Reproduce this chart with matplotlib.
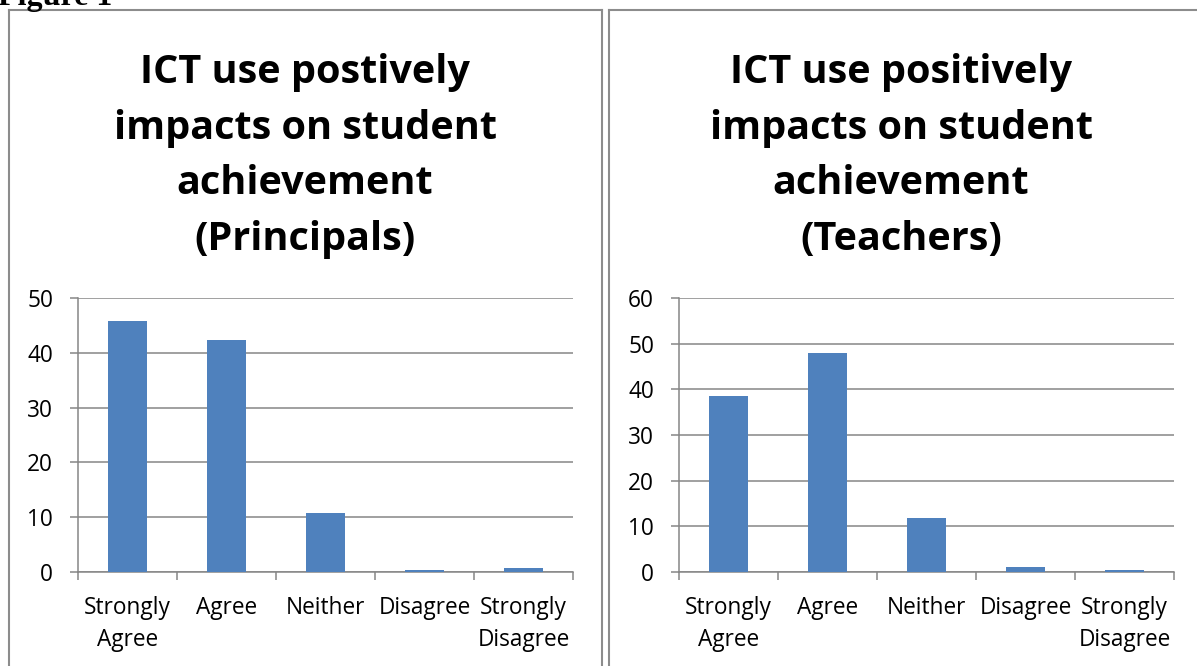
import matplotlib
matplotlib.use("Agg")
import matplotlib.pyplot as plt
import numpy as np
from matplotlib.lines import Line2D

categories = ["Strongly\nAgree", "Agree", "Neither", "Disagree", "Strongly\nDisagree"]
principals = [45.8, 42.3, 10.8, 0.35, 0.7]
teachers = [38.5, 48.0, 11.8, 1.1, 0.4]
title_left = "ICT use postively\nimpacts on student\nachievement\n(Principals)"
title_right = "ICT use positively\nimpacts on student\nachievement\n(Teachers)"
yticks_left = [0, 10, 20, 30, 40, 50]
yticks_right = [0, 10, 20, 30, 40, 50, 60]

W, H = 1197, 666
BAR = "#4F81BD"
GRID = "#868686"
FONT = "Open Sans"
TICKFS = 16.3

fig = plt.figure(figsize=(W / 100, H / 100), dpi=100)


def fx(x):
    return x / W


def fy(y):
    return 1 - y / H


def px_axes(x0, y0, x1, y1):
    return fig.add_axes([fx(x0), fy(y1), (x1 - x0) / W, (y1 - y0) / H])


def draw(ax, values, yticks):
    x = np.arange(len(categories))
    ax.bar(x, values, width=0.4, color=BAR, zorder=3)
    ax.set_xlim(-0.5, len(categories) - 0.5)
    ax.set_ylim(yticks[0], yticks[-1])
    ax.set_yticks(yticks)
    ax.set_yticklabels([str(v) for v in yticks], fontsize=TICKFS, family=FONT)
    ax.set_xticks(np.arange(-0.5, len(categories), 1.0))
    ax.set_xticklabels([])
    ax.set_xticks(x, minor=True)
    ax.set_xticklabels(categories, minor=True, fontsize=TICKFS, family=FONT,
                       linespacing=1.45)
    ax.tick_params(axis="x", which="major", length=6, width=1.1, color=GRID, direction="out")
    ax.tick_params(axis="x", which="minor", length=0, pad=17)
    ax.tick_params(axis="y", length=6, width=1.1, color=GRID, direction="out", pad=12)
    ax.yaxis.grid(True, color=GRID, lw=1.1, zorder=0)
    ax.set_axisbelow(True)
    for s in ("top", "right"):
        ax.spines[s].set_visible(False)
    for s in ("left", "bottom"):
        ax.spines[s].set_color(GRID)
        ax.spines[s].set_linewidth(1.1)


axL = px_axes(78, 298, 573, 572)
draw(axL, principals, yticks_left)
axR = px_axes(679, 298, 1174, 572)
draw(axR, teachers, yticks_right)

fig.text(fx(305), fy(156), title_left, ha="center", va="center", fontsize=28.5,
         fontweight="bold", family=FONT, linespacing=1.55)
fig.text(fx(901), fy(156), title_right, ha="center", va="center", fontsize=28.5,
         fontweight="bold", family=FONT, linespacing=1.55)

fig.text(fx(-2), fy(5), "Figure 1", ha="left", va="baseline", fontsize=23,
         fontweight="bold", family="Liberation Serif")

border = "#8c8c8c"
for xs, ys in [([9, 9], [700, 10]), ([9, 602], [10, 10]), ([602, 602], [10, 700]),
               ([609, 609], [700, 10]), ([609, 1210], [10, 10])]:
    fig.add_artist(Line2D([fx(v) for v in xs], [fy(v) for v in ys],
                          transform=fig.transFigure, color=border, lw=1.5))

fig.savefig("out.png", dpi=100)
